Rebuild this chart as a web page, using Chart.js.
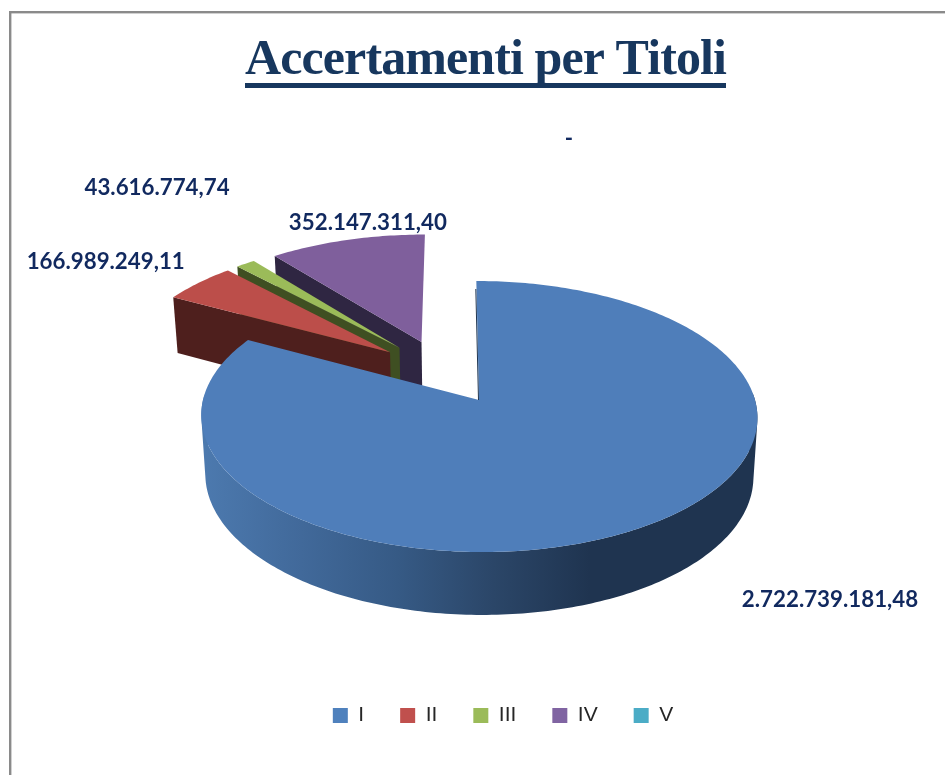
<!DOCTYPE html>
<html>
<head>
<meta charset="utf-8">
<script src="https://cdn.jsdelivr.net/npm/chart.js@4"></script>
<style>
html,body{margin:0;padding:0;background:#fff;overflow:hidden}
#wrap{width:945px;height:775px;position:relative}
canvas{display:block}
</style>
</head>
<body>
<div id="wrap"><canvas id="c" width="945" height="775"></canvas></div>
<script>
const categories = ['I', 'II', 'III', 'IV', 'V'];
const values = [2722739181.48, 166989249.11, 43616774.74, 352147311.40, 0];
const valueLabels = ['2.722.739.181,48', '166.989.249,11', '43.616.774,74', '352.147.311,40', '-'];
const topColors = ['#4F7EBA', '#BC4E4A', '#9BBB59', '#7F5F9C', '#4BACC6'];
const sideColors = ['#1F3550', '#4E1F1D', '#3F4F22', '#2F2642', '#1F4A55'];
const legendColors = ['#4F81BD', '#C0504D', '#9BBB59', '#8064A2', '#4BACC6'];
const titleText = 'Accertamenti per Titoli';
const titleColor = '#17375E';
const textColor = '#11295F';
const titleSpacing = '-0.9px';

// camera used to project the flat pie onto the tilted disc
const explode = 0.255;
const cam = { cx: 479, cy: 400, A: 276, a: 133.5, b: 0.1218, shear: 3,
              bcx: 479, bcy: 458.6, bA: 272, ba: 137.3 };
// label placement relative to each slice's projected outer mid-point
const labelShift = [[102, 72], [-172, -21], [-161, -76], [-58, -17], [120, -94]];

function frameOrigin() {
  const m = (values[0] / values.reduce((s, v) => s + v, 0)) * Math.PI; // mid angle of slice I
  return [-Math.sin(m) * explode, -Math.cos(m) * explode];
}
function topPt(u, v) {
  const d = 1 + cam.b * v;
  return [cam.cx + (cam.A * u - cam.shear * v) / d, cam.cy - cam.a * v / d];
}
function botPt(u, v) {
  const d = 1 + cam.b * v;
  return [cam.bcx + (cam.bA * u - cam.shear * v) / d, cam.bcy - cam.ba * v / d];
}
function sliceGeom(el) {
  const [ou, ov] = frameOrigin();
  const mid = (el.startAngle + el.endAngle) / 2;
  const ax = ou + Math.cos(mid) * explode, ay = ov - Math.sin(mid) * explode;
  const pts = [];
  const n = Math.max(2, Math.ceil((el.endAngle - el.startAngle) * 60));
  for (let i = 0; i <= n; i++) {
    const t = el.startAngle + (el.endAngle - el.startAngle) * i / n;
    pts.push([ax + Math.cos(t), ay - Math.sin(t)]);
  }
  return { ax, ay, pts, mid };
}
function poly(ctx, list, fill) {
  ctx.beginPath();
  list.forEach((p, i) => i ? ctx.lineTo(p[0], p[1]) : ctx.moveTo(p[0], p[1]));
  ctx.closePath();
  ctx.fillStyle = fill;
  ctx.fill();
}
function signedArea(q) {
  let s = 0;
  q.forEach((p, i) => { const r = q[(i + 1) % q.length]; s += p[0] * r[1] - r[0] * p[1]; });
  return s;
}

const pie3d = {
  id: 'pie3d',
  beforeDraw(chart) {
    const ctx = chart.ctx;
    ctx.save();
    ctx.fillStyle = '#fff';
    ctx.fillRect(0, 0, chart.width, chart.height);
    ctx.fillStyle = '#8A8A8A';
    ctx.fillRect(9, 11, chart.width - 9, 2.4);
    ctx.fillRect(9, 11, 2.4, chart.height - 11);
    ctx.restore();
  },
  afterLayout(chart) {
    const l = chart.legend, t = chart.titleBlock;
    l.left += 30.5; l.right += 30.5;
    const dy = 669 - l.top; l.top += dy; l.bottom += dy;
    t.left += 13; t.right += 13;
    const drawTitle = t.draw;
    t.draw = function (area) {
      const ctx = chart.ctx;
      ctx.save();
      ctx.letterSpacing = titleSpacing;
      drawTitle.call(this, area);
      ctx.restore();
    };
  },
  beforeDatasetDraw(chart) {
    const ctx = chart.ctx;
    const arcs = chart.getDatasetMeta(0).data;
    ctx.save();
    const order = [3, 2, 1, 0];
    order.forEach(i => {
      const el = arcs[i];
      const g = sliceGeom(el);
      const ap = [g.ax, g.ay];
      const first = g.pts[0], last = g.pts[g.pts.length - 1];
      const side = sideColors[i];
      // radial walls, only when they face the viewer
      if (Math.cos(el.endAngle) > 1e-6) {
        poly(ctx, [topPt(...ap), topPt(...last), botPt(...last), botPt(...ap)], side);
      }
      if (Math.cos(el.startAngle) < -1e-6) {
        poly(ctx, [topPt(...ap), topPt(...first), botPt(...first), botPt(...ap)], side);
      }
      // outer wall: one path of same-wound quads, so no seams and no holes
      let wall = side;
      if (i === 0) {
        const gr = ctx.createLinearGradient(205, 0, 590, 0);
        gr.addColorStop(0, '#4C79AE');
        gr.addColorStop(0.25, '#41699A');
        gr.addColorStop(0.5, '#365A85');
        gr.addColorStop(0.75, '#2B4668');
        gr.addColorStop(1, '#1F3450');
        wall = gr;
      }
      ctx.beginPath();
      for (let k = 0; k < g.pts.length - 1; k++) {
        const p = g.pts[k], r = g.pts[k + 1];
        const midT = el.startAngle + (el.endAngle - el.startAngle) * (k + 0.5) / (g.pts.length - 1);
        if (Math.sin(midT) < -0.05) continue;
        let q = [topPt(...p), topPt(...r), botPt(...r), botPt(...p)];
        if (signedArea(q) < 0) q = q.reverse();
        q.forEach((c, j) => j ? ctx.lineTo(c[0], c[1]) : ctx.moveTo(c[0], c[1]));
        ctx.closePath();
      }
      ctx.fillStyle = wall;
      ctx.fill('nonzero');
      // top face
      poly(ctx, [topPt(...ap)].concat(g.pts.map(p => topPt(...p))), topColors[i]);
      if (i === 0) {
        // thin shaded edge along the start of the first slice
        ctx.beginPath();
        const a = topPt(...ap), b = topPt(...first);
        ctx.moveTo(a[0] - 0.5, a[1]);
        ctx.lineTo(b[0] - 0.5, b[1] + 8);
        ctx.strokeStyle = side;
        ctx.lineWidth = 1;
        ctx.stroke();
      }
    });
    ctx.restore();
    return false;
  },
  afterDatasetsDraw(chart) {
    const ctx = chart.ctx;
    const arcs = chart.getDatasetMeta(0).data;
    ctx.save();
    ctx.font = 'bold 22.3px Lato';
    ctx.fillStyle = textColor;
    ctx.textAlign = 'left';
    ctx.textBaseline = 'middle';
    arcs.forEach((el, i) => {
      const g = sliceGeom(el);
      const [x, y] = topPt(g.ax + Math.cos(g.mid), g.ay - Math.sin(g.mid));
      ctx.fillText(valueLabels[i], x + labelShift[i][0], y + labelShift[i][1]);
    });
    // title underline follows the measured title text
    ctx.font = 'bold 50px "Liberation Serif"';
    ctx.letterSpacing = titleSpacing;
    const w = ctx.measureText(titleText).width;
    ctx.letterSpacing = '0px';
    const cx = (chart.titleBlock.left + chart.titleBlock.right) / 2;
    ctx.fillStyle = titleColor;
    ctx.fillRect(cx - w / 2, 83, w, 5);
    ctx.restore();
  }
};

new Chart(document.getElementById('c'), {
  type: 'pie',
  data: {
    labels: categories,
    datasets: [{ data: values, backgroundColor: legendColors, borderWidth: 0, offset: 40 }]
  },
  plugins: [pie3d],
  options: {
    responsive: false,
    animation: false,
    rotation: 0,
    layout: { padding: { top: 31, bottom: 45, left: 0, right: 0 } },
    plugins: {
      tooltip: { enabled: false },
      title: {
        display: true,
        text: titleText,
        color: titleColor,
        font: { family: '"Liberation Serif"', size: 50, weight: 'bold' },
        padding: { top: 0, bottom: 10 }
      },
      legend: {
        display: true,
        position: 'bottom',
        labels: {
          boxWidth: 15, boxHeight: 15, padding: 36,
          color: '#262626',
          font: { family: '"Liberation Sans"', size: 21 }
        }
      }
    }
  }
});
</script>
</body>
</html>
